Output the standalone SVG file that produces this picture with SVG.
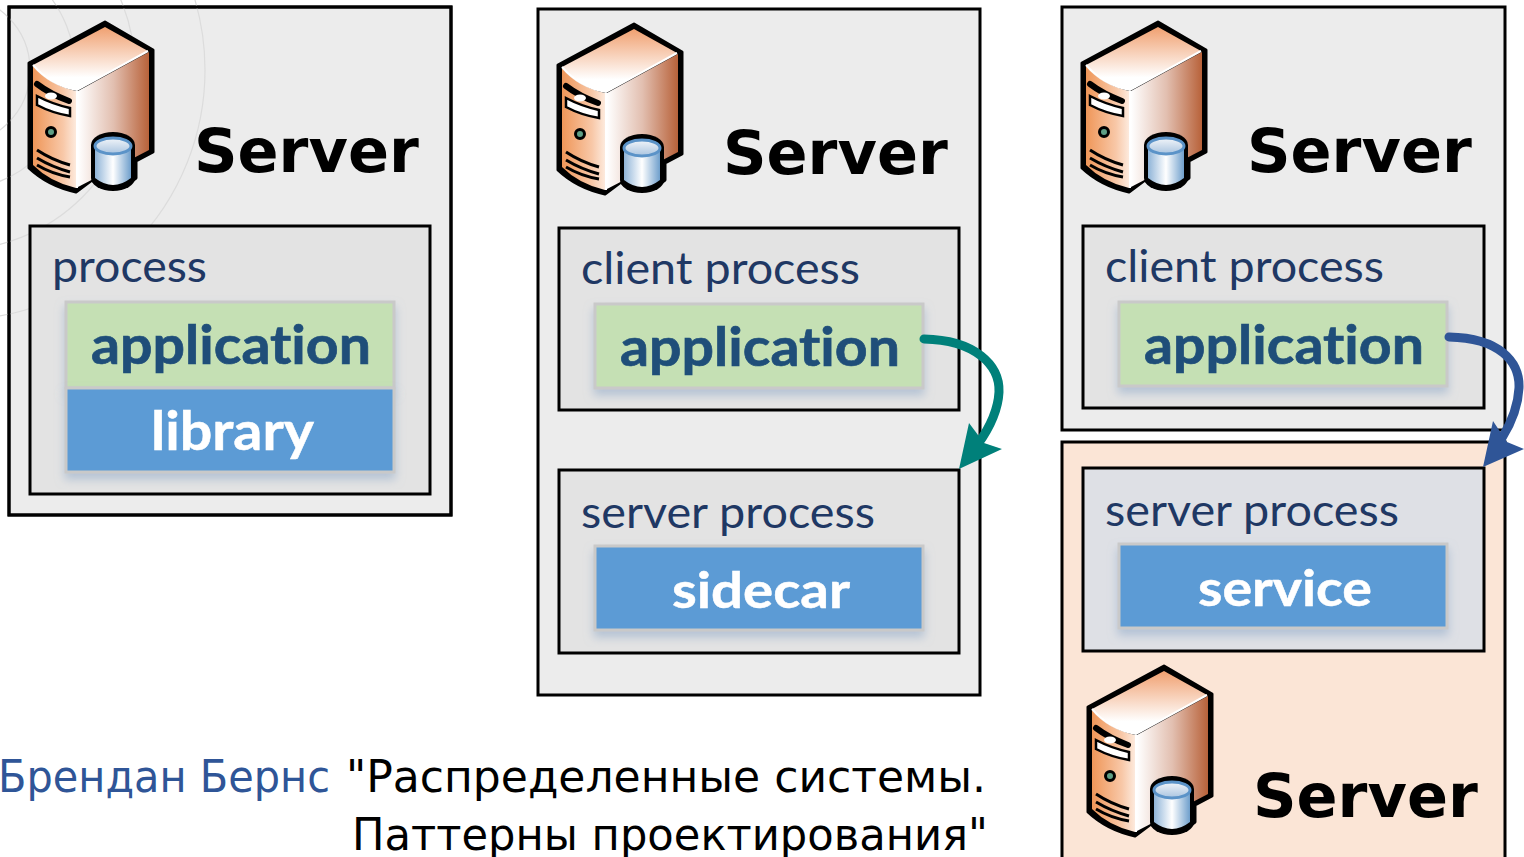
<svg xmlns="http://www.w3.org/2000/svg" width="1524" height="857" viewBox="0 0 1524 857">
<style>
.panel{fill:#ececec;stroke:#000;stroke-width:3}
.proc{fill:#e3e3e3;stroke:#000;stroke-width:3}
.green{fill:#c5e0b4;stroke:#c9c9c9;stroke-width:3}
.blue{fill:#5b9bd5;stroke:#c9c9c9;stroke-width:3}
.srv{font:bold 60.5px "DejaVu Sans",sans-serif;fill:#000}
.pt{font:44px Lato,"Open Sans",sans-serif;fill:#1f3864;font-variant-ligatures:none}
.gt{font:bold 54px Lato,"Open Sans",sans-serif;fill:#1f4e79;stroke:#1f4e79;stroke-width:.7;font-variant-ligatures:none}
.wt{font:bold 54px Lato,"Open Sans",sans-serif;fill:#fff;stroke:#fff;stroke-width:.5;font-variant-ligatures:none}
.cite{font:44px "DejaVu Sans",sans-serif}
.arc{fill:none;stroke:#dcdcdc;stroke-width:1.2}
.link{fill:none;stroke-width:9;stroke-linecap:round}
</style>
<defs>
<linearGradient id="top" x1="0" y1="0" x2="0" y2="1"><stop offset="0" stop-color="#f0a070"/><stop offset="0.8" stop-color="#fff"/></linearGradient>
<linearGradient id="side" x1="0" y1="0" x2="1" y2="0"><stop offset="0" stop-color="#fff"/><stop offset="0.5" stop-color="#e2bfb0"/><stop offset="1" stop-color="#b8623a"/></linearGradient>
<linearGradient id="front" x1="0" y1="0" x2="1" y2="0"><stop offset="0" stop-color="#ef9658"/><stop offset="0.7" stop-color="#f8c8a8"/><stop offset="1" stop-color="#fdeadd"/></linearGradient>
<linearGradient id="cyl" x1="0" y1="0" x2="1" y2="0"><stop offset="0" stop-color="#8fb4d8"/><stop offset="0.5" stop-color="#fff"/><stop offset="1" stop-color="#6f9fcc"/></linearGradient>
<linearGradient id="cylt" x1="0" y1="0" x2="0" y2="1"><stop offset="0" stop-color="#f2f5f9"/><stop offset="1" stop-color="#a9c4e0"/></linearGradient>
<filter id="sh" x="-10%" y="-15%" width="120%" height="135%"><feDropShadow dx="0" dy="6" stdDeviation="5" flood-color="#8fa8c8" flood-opacity="0.55"/></filter>
<g id="icon">
<path d="M105 22 L153 50 V152 L136 161 V178 Q113 198 92 180 L76 192 Q48 186 29 168 V63 Z" fill="#000" stroke="#000" stroke-width="3" stroke-linejoin="round"/>
<path d="M105 27 L148 51 L77 90 Q50 85 33 65 Z" fill="url(#top)"/>
<path d="M78 91 L149 52 V150 L78 187 Z" fill="url(#side)"/>
<path d="M33 66 Q50 85 76 91 V188 Q50 182 33 165 Z" fill="url(#front)"/>
<path d="M33 65 Q50 85 77 90 L148 51" stroke="#fff" stroke-width="2" fill="none"/>
<path d="M77 91 V188" stroke="#fff" stroke-width="2" fill="none"/>
<path d="M37 84 Q50 94 69 101" stroke="#000" stroke-width="6" fill="none" stroke-linecap="round"/>
<path d="M37 96 V105 Q52 113 70 116 V108 Q52 104 37 96Z" fill="#fff" stroke="#000" stroke-width="2.5"/>
<ellipse cx="51" cy="96" rx="6" ry="3.5" fill="#fff"/>
<circle cx="51" cy="132" r="4.5" fill="#5f9f85" stroke="#000" stroke-width="3"/>
<path d="M37 150 Q52 160 70 165 M37 158 Q52 167 70 172 M37 165 Q52 174 70 177" stroke="#000" stroke-width="3" fill="none"/>
<path d="M91 145 A22 13 0 0 1 135 145 V178 A22 13 0 0 1 91 178 Z" fill="#000"/>
<path d="M95 146 V178 Q113 192 131 178 V146 Z" fill="url(#cyl)"/>
<ellipse cx="113" cy="146" rx="18" ry="8" fill="url(#cylt)" stroke="#5b93c8" stroke-width="3"/>
</g>
</defs>
<g id="panel-left">
<rect class="panel" x="9" y="7" width="442" height="508"/>
<circle class="arc" cx="-45" cy="70" r="250"/><circle class="arc" cx="-45" cy="70" r="180"/><circle class="arc" cx="-45" cy="70" r="120"/><circle class="arc" cx="-45" cy="70" r="75"/>
<rect class="panel" style="fill:none" x="9" y="7" width="442" height="508"/>
<use href="#icon"/>
<text class="srv" x="194" y="172">Server</text>
</g>
<g id="process-left">
<rect class="proc" x="30" y="226" width="400" height="268"/>
<text class="pt" x="52" y="282" textLength="155" lengthAdjust="spacingAndGlyphs">process</text>
</g>
<g id="application-left">
<rect class="green" x="66" y="302" width="328" height="86" filter="url(#sh)"/>
<text class="gt" x="91" y="364" textLength="280" lengthAdjust="spacingAndGlyphs">application</text>
</g>
<g id="library">
<rect class="blue" x="66" y="388" width="328" height="84" filter="url(#sh)"/>
<text class="wt" x="151" y="450" textLength="163" lengthAdjust="spacingAndGlyphs">library</text>
</g>
<g id="panel-middle">
<rect class="panel" x="538" y="9" width="442" height="686"/>
<use href="#icon" x="529" y="2"/>
<text class="srv" x="723" y="174">Server</text>
</g>
<g id="client-process-middle">
<rect class="proc" x="559" y="228" width="400" height="182"/>
<text class="pt" x="581" y="284" textLength="279" lengthAdjust="spacingAndGlyphs">client process</text>
</g>
<g id="application-middle">
<rect class="green" x="595" y="304" width="328" height="84" filter="url(#sh)"/>
<text class="gt" x="620" y="366" textLength="280" lengthAdjust="spacingAndGlyphs">application</text>
</g>
<g id="server-process-middle">
<rect class="proc" x="559" y="470" width="400" height="183"/>
<text class="pt" x="581" y="528" textLength="294" lengthAdjust="spacingAndGlyphs">server process</text>
</g>
<g id="sidecar">
<rect class="blue" x="595" y="546" width="328" height="84" filter="url(#sh)"/>
<text class="wt" x="672" y="608" textLength="178" lengthAdjust="spacingAndGlyphs" style="font-size:50px">sidecar</text>
</g>
<g id="panel-right-top">
<rect class="panel" x="1062" y="7" width="443" height="423"/>
<use href="#icon" x="1053"/>
<text class="srv" x="1247" y="172">Server</text>
</g>
<g id="client-process-right">
<rect class="proc" x="1083" y="226" width="401" height="182"/>
<text class="pt" x="1105" y="282" textLength="279" lengthAdjust="spacingAndGlyphs">client process</text>
</g>
<g id="application-right">
<rect class="green" x="1119" y="302" width="328" height="84" filter="url(#sh)"/>
<text class="gt" x="1144" y="364" textLength="280" lengthAdjust="spacingAndGlyphs">application</text>
</g>
<g id="panel-right-bottom">
<rect class="panel" style="fill:#fbe5d6" x="1062" y="442" width="443" height="420"/>
<use href="#icon" x="1059" y="644"/>
<text class="srv" x="1253" y="817">Server</text>
</g>
<g id="server-process-right">
<rect class="proc" style="fill:#dee0e5" x="1083" y="468" width="401" height="183"/>
<text class="pt" x="1105" y="526" textLength="294" lengthAdjust="spacingAndGlyphs">server process</text>
</g>
<g id="service">
<rect class="blue" x="1119" y="544" width="328" height="84" filter="url(#sh)"/>
<text class="wt" x="1198" y="606" textLength="174" lengthAdjust="spacingAndGlyphs" style="font-size:50px">service</text>
</g>
<g id="connectors">
<path class="link" stroke="#00807a" d="M924 339 C975 340 1000 365 999 392 C998 412 988 430 978 444"/>
<path d="M959 469 L969 423 L984 443 L1002 449 Z" fill="#00807a"/>
<path class="link" stroke="#2f5597" d="M1449 337 C1500 338 1520 362 1519 388 C1518 408 1510 425 1502 438"/>
<path d="M1483 467 L1493 421 L1507 442 L1524 449 Z" fill="#2f5597"/>
</g>
<g id="citation">
<text class="cite" x="-2" y="792" textLength="332" lengthAdjust="spacingAndGlyphs" fill="#2f5597">Брендан Бернс</text>
<text class="cite" x="346" y="792" textLength="640" lengthAdjust="spacingAndGlyphs" fill="#000">"Распределенные системы.</text>
<text class="cite" x="352" y="850" textLength="636" lengthAdjust="spacingAndGlyphs" fill="#000">Паттерны проектирования"</text>
</g>
</svg>
